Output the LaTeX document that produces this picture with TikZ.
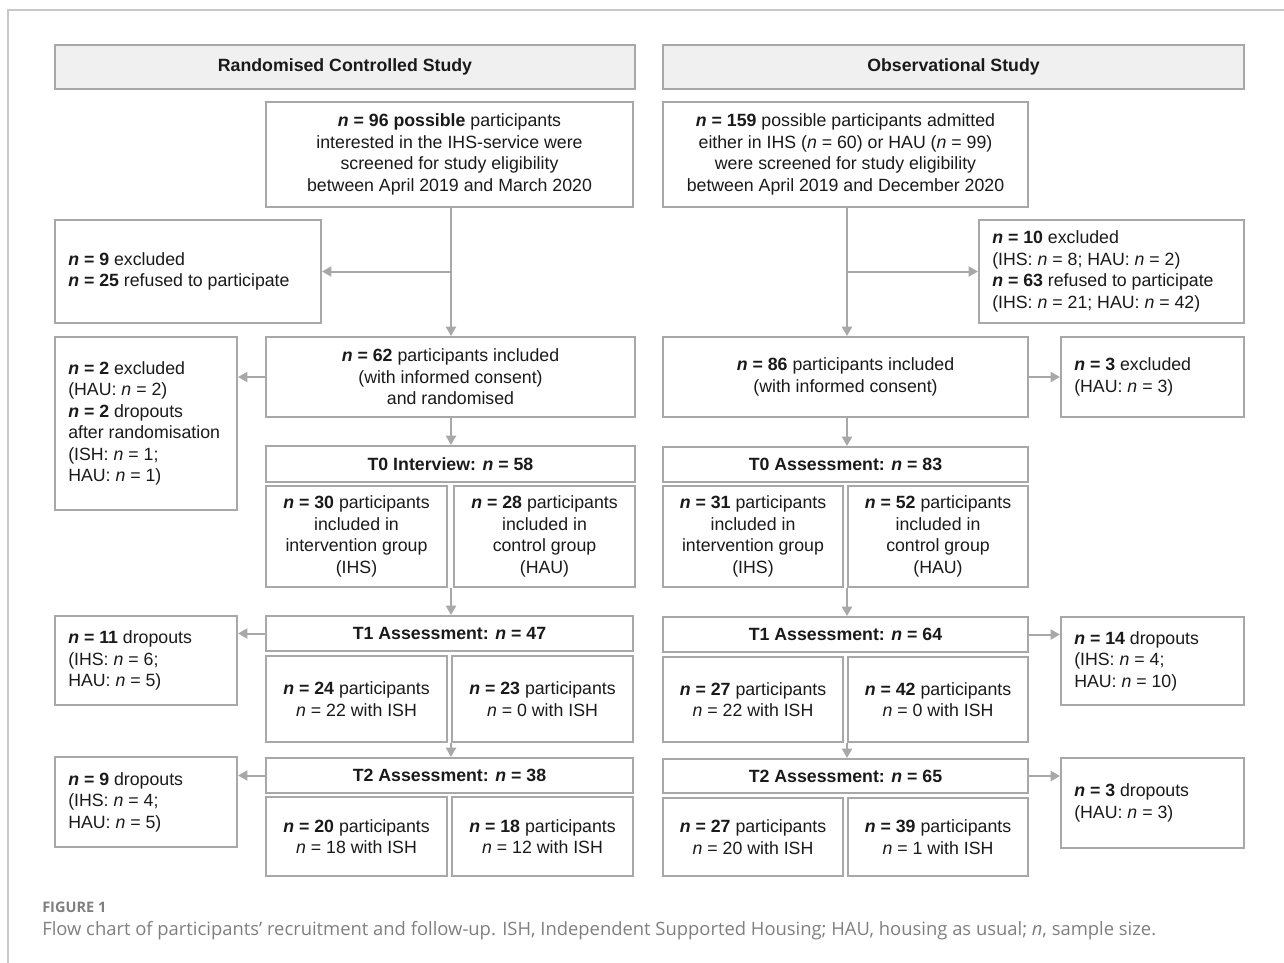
\documentclass[tikz,border=0pt]{standalone}
\usepackage{fontspec}
\setmainfont{Liberation Sans}
\newfontfamily\capfont{Open Sans}
\usetikzlibrary{arrows.meta}
\definecolor{bd}{HTML}{A8A8A8}
\definecolor{hdr}{HTML}{F0F0F0}
\definecolor{framec}{HTML}{C8C8C8}
\definecolor{capc}{HTML}{7F7F7F}
\definecolor{txt}{HTML}{1A1A1A}
\tikzset{
  box/.style={draw=bd, line width=1.5pt, fill=white, inner sep=0pt, rectangle,
    font=\fontsize{13.3}{16.1}\selectfont, text=txt, align=center},
  hdrbox/.style={box, fill=hdr, font=\fontsize{13.3}{16.1}\selectfont\bfseries},
  ltext/.style={anchor=west, inner sep=0pt, align=left, text=txt,
    font=\fontsize{13.3}{16.1}\selectfont},
  arr/.style={draw=bd, line width=1.5pt, -{Triangle[length=7pt,width=7.5pt]}},
}
\newcommand\mkbox[7]{%
  \pgfmathsetmacro\bw{(#5-#3)*0.75}%
  \pgfmathsetmacro\bh{(#6-#4)*0.75}%
  \node[#1, minimum width=\bw pt, minimum height=\bh pt] (#2) at ({(#3+#5)/2},{(#4+#6)/2}) {#7};}
\newcommand\N{\textit{n}}
\newcommand\BN{\textbf{\textit{n}}}
\begin{document}
\begin{tikzpicture}[x=0.75pt,y=-0.75pt]
\useasboundingbox (0,0) rectangle (1284,963);
\draw[framec, line width=1.5pt] (8,963) -- (8,10) -- (1284,10);

% headers
\mkbox{hdrbox}{hL}{55}{45}{635}{89}{Randomised Controlled Study}
\mkbox{hdrbox}{hR}{663}{45}{1244}{89}{Observational Study}

% ---------- left column ----------
\mkbox{box}{a}{266}{102}{633}{207}{\textbf{\BN{} = 96 possible} participants\\interested in the IHS-service were\\screened for study eligibility\\between April 2019 and March 2020}
\mkbox{box}{ex1}{55}{220}{321}{323}{}
\node[ltext] (ex1t) at ([xshift=10.5pt]ex1.west) {\textbf{\BN{} = 9} excluded\\\textbf{\BN{} = 25} refused to participate};
\mkbox{box}{b}{266}{337}{635}{417}{\textbf{\BN{} = 62} participants included\\(with informed consent)\\and randomised}
\mkbox{box}{ex2}{55}{337}{237}{510}{}
\node[ltext] (ex2t) at ([xshift=10.5pt]ex2.west) {\textbf{\BN{} = 2} excluded\\(HAU: \N{} = 2)\\\textbf{\BN{} = 2} dropouts\\after randomisation\\(ISH: \N{} = 1;\\HAU: \N{} = 1)};
\mkbox{box}{t0L}{266}{446}{635}{482}{\textbf{T0 Interview: \BN{} = 58}}
\mkbox{box}{t0La}{266}{486}{447}{587}{\textbf{\BN{} = 30} participants\\included in\\intervention group\\(IHS)}
\mkbox{box}{t0Lb}{454}{486}{635}{587}{\textbf{\BN{} = 28} participants\\included in\\control group\\(HAU)}
\mkbox{box}{t1L}{266}{616}{633}{651}{\textbf{T1 Assessment: \BN{} = 47}}
\mkbox{box}{d1L}{55}{616}{237}{705}{}
\node[ltext] (d1Lt) at ([xshift=10.5pt]d1L.west) {\textbf{\BN{} = 11} dropouts\\(IHS: \N{} = 6;\\HAU: \N{} = 5)};
\mkbox{box}{t1La}{266}{656}{447}{742}{\textbf{\BN{} = 24} participants\\\N{} = 22 with ISH}
\mkbox{box}{t1Lb}{452}{656}{633}{742}{\textbf{\BN{} = 23} participants\\\N{} = 0 with ISH}
\mkbox{box}{t2L}{266}{758}{633}{793}{\textbf{T2 Assessment: \BN{} = 38}}
\mkbox{box}{d2L}{55}{757}{237}{847}{}
\node[ltext] (d2Lt) at ([xshift=10.5pt]d2L.west) {\textbf{\BN{} = 9} dropouts\\(IHS: \N{} = 4;\\HAU: \N{} = 5)};
\mkbox{box}{t2La}{266}{797}{447}{876}{\textbf{\BN{} = 20} participants\\\N{} = 18 with ISH}
\mkbox{box}{t2Lb}{452}{797}{633}{876}{\textbf{\BN{} = 18} participants\\\N{} = 12 with ISH}

% ---------- right column ----------
\mkbox{box}{c}{663}{102}{1028}{207}{\textbf{\BN{} = 159} possible participants admitted\\either in IHS (\N{} = 60) or HAU (\N{} = 99)\\were screened for study eligibility\\between April 2019 and December 2020}
\mkbox{box}{ex3}{979}{220}{1244}{323}{}
\node[ltext] (ex3t) at ([xshift=10.5pt]ex3.west) {\textbf{\BN{} = 10} excluded\\(IHS: \N{} = 8; HAU: \N{} = 2)\\\textbf{\BN{} = 63} refused to participate\\(IHS: \N{} = 21; HAU: \N{} = 42)};
\mkbox{box}{d}{663}{337}{1028}{417}{\textbf{\BN{} = 86} participants included\\(with informed consent)}
\mkbox{box}{ex4}{1061}{337}{1244}{417}{}
\node[ltext] (ex4t) at ([xshift=10.5pt]ex4.west) {\textbf{\BN{} = 3} excluded\\(HAU: \N{} = 3)};
\mkbox{box}{t0R}{663}{447}{1028}{482}{\textbf{T0 Assessment: \BN{} = 83}}
\mkbox{box}{t0Ra}{663}{486}{843}{587}{\textbf{\BN{} = 31} participants\\included in\\intervention group\\(IHS)}
\mkbox{box}{t0Rb}{848}{486}{1028}{587}{\textbf{\BN{} = 52} participants\\included in\\control group\\(HAU)}
\mkbox{box}{t1R}{663}{617}{1028}{652}{\textbf{T1 Assessment: \BN{} = 64}}
\mkbox{box}{d1R}{1061}{617}{1244}{705}{}
\node[ltext] (d1Rt) at ([xshift=10.5pt]d1R.west) {\textbf{\BN{} = 14} dropouts\\(IHS: \N{} = 4;\\HAU: \N{} = 10)};
\mkbox{box}{t1Ra}{663}{657}{843}{742}{\textbf{\BN{} = 27} participants\\\N{} = 22 with ISH}
\mkbox{box}{t1Rb}{848}{657}{1028}{742}{\textbf{\BN{} = 42} participants\\\N{} = 0 with ISH}
\mkbox{box}{t2R}{663}{759}{1028}{793}{\textbf{T2 Assessment: \BN{} = 65}}
\mkbox{box}{d2R}{1061}{758}{1244}{848}{}
\node[ltext] (d2Rt) at ([xshift=10.5pt]d2R.west) {\textbf{\BN{} = 3} dropouts\\(HAU: \N{} = 3)};
\mkbox{box}{t2Ra}{663}{798}{843}{876}{\textbf{\BN{} = 27} participants\\\N{} = 20 with ISH}
\mkbox{box}{t2Rb}{848}{798}{1028}{876}{\textbf{\BN{} = 39} participants\\\N{} = 1 with ISH}

% ---------- connectors left ----------
\coordinate (la) at (451,207);
\draw[arr] (la) -- (la |- b.north);
\draw[arr] (la |- ex1.east) -- (ex1.east);
\draw[arr] (b.west) -- (ex2.east |- b.west);
\draw[arr] (b.south -| la) -- (la |- t0L.north);
\draw[arr] (t0La.south -| la) -- (la |- t1L.north);
\draw[arr] (t1L.west) -- (d1L.east |- t1L.west);
\draw[arr] (t1La.south -| la) -- (la |- t2L.north);
\draw[arr] (t2L.west) -- (d2L.east |- t2L.west);

% ---------- connectors right ----------
\coordinate (ra) at (847,207);
\draw[arr] (ra) -- (ra |- d.north);
\draw[arr] (ra |- ex3.west) -- (ex3.west);
\draw[arr] (d.east) -- (ex4.west);
\draw[arr] (d.south -| ra) -- (ra |- t0R.north);
\draw[arr] (t0Ra.south -| ra) -- (ra |- t1R.north);
\draw[arr] (t1R.east) -- (d1R.west |- t1R.east);
\draw[arr] (t1Ra.south -| ra) -- (ra |- t2R.north);
\draw[arr] (t2R.east) -- (d2R.west |- t2R.east);

% caption
\node[anchor=west, inner sep=0pt, text=capc, font=\capfont\fontsize{10.9}{13}\selectfont\bfseries] (fig) at (42,907) {FIGURE 1};
\node[anchor=west, inner sep=0pt, text=capc, font=\capfont\fontsize{13.8}{16}\selectfont] (cap) at (42,931) {Flow chart of participants’ recruitment and follow-up. ISH, Independent Supported Housing; HAU, housing as usual; \textit{n}, sample size.};
\end{tikzpicture}
\end{document}
